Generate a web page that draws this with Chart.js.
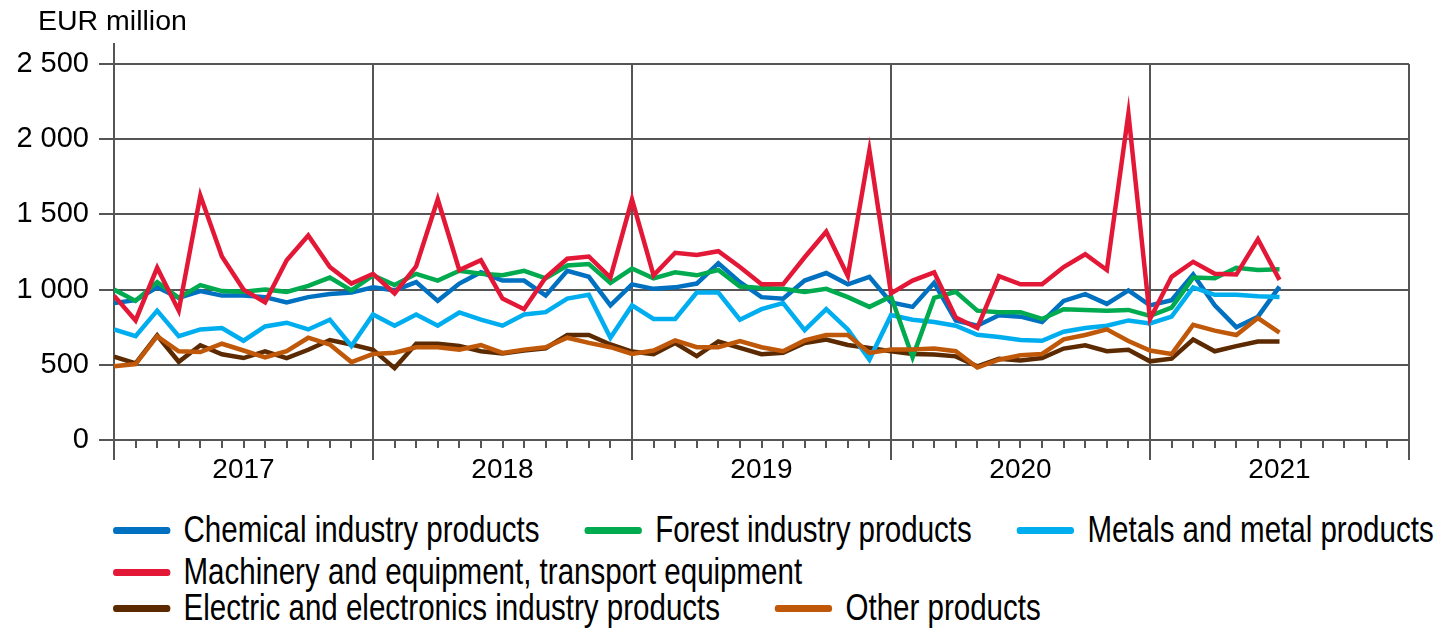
<!DOCTYPE html>
<html>
<head>
<meta charset="utf-8">
<script src="https://cdn.jsdelivr.net/npm/chart.js@4.4.0/dist/chart.umd.min.js"></script>
<style>
  html, body { margin: 0; padding: 0; background: #fff; }
  #wrap { position: relative; width: 1441px; height: 633px; overflow: hidden; font-family: 'Liberation Sans', Arial, sans-serif; }
  #unit { position: absolute; left: 38px; top: 6px; font-size: 28.5px; line-height: 28px; color: #000; }
  #chart { position: absolute; left: 0; top: 0; }
  /* the legend font of the original is a narrow face: squeeze the rows horizontally */
  .row { position: absolute; left: 113px; display: flex; align-items: center; height: 40px; white-space: nowrap;
         font-family: 'Liberation Sans', Arial, sans-serif; font-size: 36px; color: #000;
         transform: scaleX(0.82); transform-origin: 0 50%; }
  .r0 { top: 510px; gap: 55px; }
  .r1 { top: 552px; }
  .r2 { top: 588px; gap: 67px; }
  .item { display: flex; align-items: center; }
  .sw { width: 70px; height: 7px; border-radius: 4px; margin-right: 16px; }
</style>
</head>
<body>
<div id="wrap">
  <canvas id="chart" width="1441" height="500"></canvas>
  <div id="unit">EUR million</div>
  <div id="legend"></div>
</div>
<script>
const months = [
  '2017M01','2017M02','2017M03','2017M04','2017M05','2017M06','2017M07','2017M08','2017M09','2017M10','2017M11','2017M12',
  '2018M01','2018M02','2018M03','2018M04','2018M05','2018M06','2018M07','2018M08','2018M09','2018M10','2018M11','2018M12',
  '2019M01','2019M02','2019M03','2019M04','2019M05','2019M06','2019M07','2019M08','2019M09','2019M10','2019M11','2019M12',
  '2020M01','2020M02','2020M03','2020M04','2020M05','2020M06','2020M07','2020M08','2020M09','2020M10','2020M11','2020M12',
  '2021M01','2021M02','2021M03','2021M04','2021M05','2021M06','2021M07'
];
const years = ['2017', '2018', '2019', '2020', '2021'];
const yTicks = [0, 500, 1000, 1500, 2000, 2500];

const chemical = [910, 930, 1015, 945, 990, 960, 960, 950, 915, 950, 970, 980,
  1015, 995, 1050, 925, 1040, 1115, 1060, 1060, 960, 1125, 1085, 895,
  1035, 1005, 1015, 1040, 1175, 1050, 950, 940, 1060, 1110, 1035, 1085,
  915, 885, 1045, 795, 760, 830, 820, 785, 925, 970, 905, 995,
  895, 930, 1100, 895, 750, 820, 1020];
const forest = [1000, 925, 1050, 945, 1030, 990, 985, 1000, 985, 1025, 1080, 995,
  1095, 1030, 1105, 1060, 1125, 1105, 1095, 1125, 1075, 1160, 1170, 1045,
  1140, 1075, 1115, 1095, 1130, 1020, 1010, 1005, 985, 1005, 950, 885,
  955, 550, 945, 985, 860, 850, 850, 805, 870, 865, 860, 865,
  825, 880, 1080, 1075, 1145, 1130, 1135];
const metals = [735, 690, 860, 690, 735, 745, 660, 755, 780, 735, 800, 625,
  835, 760, 835, 760, 848, 800, 760, 835, 850, 940, 965, 680,
  895, 805, 805, 980, 980, 800, 870, 910, 730, 870, 735, 535,
  830, 800, 785, 760, 700, 685, 665, 660, 720, 745, 760, 795,
  775, 820, 1015, 965, 965, 955, 950];
const machinery = [960, 795, 1145, 860, 1625, 1220, 1000, 915, 1195, 1360, 1150, 1040,
  1105, 975, 1155, 1600, 1130, 1195, 940, 870, 1080, 1205, 1220, 1080,
  1600, 1095, 1245, 1230, 1255, 1150, 1035, 1035, 1215, 1385, 1090, 1925,
  975, 1060, 1115, 815, 745, 1090, 1035, 1035, 1150, 1235, 1130, 2170,
  805, 1085, 1185, 1105, 1100, 1335, 1065];
const electric = [555, 510, 695, 520, 630, 570, 545, 590, 545, 600, 665, 635,
  600, 478, 640, 640, 625, 590, 575, 595, 610, 698, 698, 635,
  588, 570, 645, 558, 655, 612, 570, 580, 645, 668, 632, 612,
  590, 572, 568, 556, 490, 540, 528, 545, 608, 630, 590, 600,
  523, 541, 668, 590, 624, 655, 655];
const other = [490, 505, 690, 590, 585, 640, 595, 550, 590, 680, 635, 518,
  572, 580, 617, 617, 601, 631, 579, 601, 617, 680, 646, 617,
  572, 595, 662, 617, 617, 658, 617, 590, 662, 698, 698, 579,
  601, 601, 608, 590, 482, 534, 563, 572, 669, 698, 736, 658,
  595, 572, 766, 727, 698, 811, 714];

const series = [
  { label: 'Chemical industry products', values: chemical, color: '#0070c0', order: 4 },
  { label: 'Forest industry products', values: forest, color: '#00aa4f', order: 2 },
  { label: 'Metals and metal products', values: metals, color: '#00aeef', order: 3 },
  { label: 'Machinery and equipment, transport equipment', values: machinery, color: '#e31837', order: 0 },
  { label: 'Electric and electronics industry products', values: electric, color: '#5c2a00', order: 5 },
  { label: 'Other products', values: other, color: '#c0580a', order: 1 }
];

const gridColor = '#555';
const isYearEdge = c => c.tick && c.tick.value % 12 === 0;

// y axis line pokes a bit above the top gridline
const axisExtension = {
  id: 'axisExtension',
  afterDraw(chart) {
    const { ctx, chartArea } = chart;
    ctx.save();
    ctx.strokeStyle = gridColor;
    ctx.lineWidth = 2;
    ctx.beginPath();
    ctx.moveTo(chartArea.left, chartArea.top - 21);
    ctx.lineTo(chartArea.left, chartArea.top);
    ctx.stroke();
    ctx.restore();
  }
};

Chart.defaults.font.family = "'Liberation Sans', Arial, sans-serif";
Chart.defaults.color = '#000';

const chart = new Chart(document.getElementById('chart'), {
  type: 'line',
  data: {
    labels: months,
    datasets: series.map(s => ({
      label: s.label,
      data: s.values.map((v, i) => ({ x: i, y: v })),
      borderColor: s.color,
      backgroundColor: s.color,
      borderWidth: 4.5,
      pointRadius: 0,
      tension: 0,
      order: s.order
    }))
  },
  options: {
    responsive: false,
    animation: false,
    layout: { padding: { top: 64, right: 32, left: 0, bottom: 0 } },
    plugins: { legend: { display: false }, tooltip: { enabled: false } },
    scales: {
      x: {
        type: 'linear',
        min: 0,
        max: 60,
        afterFit: s => { s.height = 60; },
        border: { display: true, color: gridColor, width: 2 },
        grid: {
          color: c => isYearEdge(c) ? gridColor : 'rgba(0,0,0,0)',
          lineWidth: 2,
          tickLength: 20,
          tickWidth: 2,
          tickColor: gridColor,
          tickBorderDash: c => isYearEdge(c) ? [] : [7, 40]
        },
        ticks: {
          stepSize: 1,
          maxTicksLimit: 100,
          autoSkip: false,
          maxRotation: 0,
          padding: -4,
          font: { size: 28, lineHeight: 1 },
          callback: v => v % 12 === 6 ? years[(v - 6) / 12] : ''
        }
      },
      y: {
        min: yTicks[0],
        max: yTicks[yTicks.length - 1],
        afterFit: s => { s.width = 114; },
        afterBuildTicks: s => { s.ticks = yTicks.map(v => ({ value: v })); },
        border: { display: true, color: gridColor, width: 2 },
        grid: { color: gridColor, lineWidth: 2, tickLength: 15, tickWidth: 2, tickColor: gridColor },
        ticks: {
          padding: 10,
          font: { size: 29 },
          callback: v => String(v).replace(/\B(?=(\d{3})+(?!\d))/g, ' ')
        }
      }
    }
  },
  plugins: [axisExtension]
});

// html legend, rows broken like the original
const legendRows = [[0, 1, 2], [3], [4, 5]];
const legendEl = document.getElementById('legend');
legendRows.forEach((row, r) => {
  const rowEl = document.createElement('div');
  rowEl.className = 'row r' + r;
  row.forEach(i => {
    const ds = chart.data.datasets[i];
    const item = document.createElement('div');
    item.className = 'item';
    const sw = document.createElement('span');
    sw.className = 'sw';
    sw.style.background = ds.borderColor;
    const txt = document.createElement('span');
    txt.textContent = ds.label;
    item.appendChild(sw);
    item.appendChild(txt);
    rowEl.appendChild(item);
  });
  legendEl.appendChild(rowEl);
});
</script>
</body>
</html>
